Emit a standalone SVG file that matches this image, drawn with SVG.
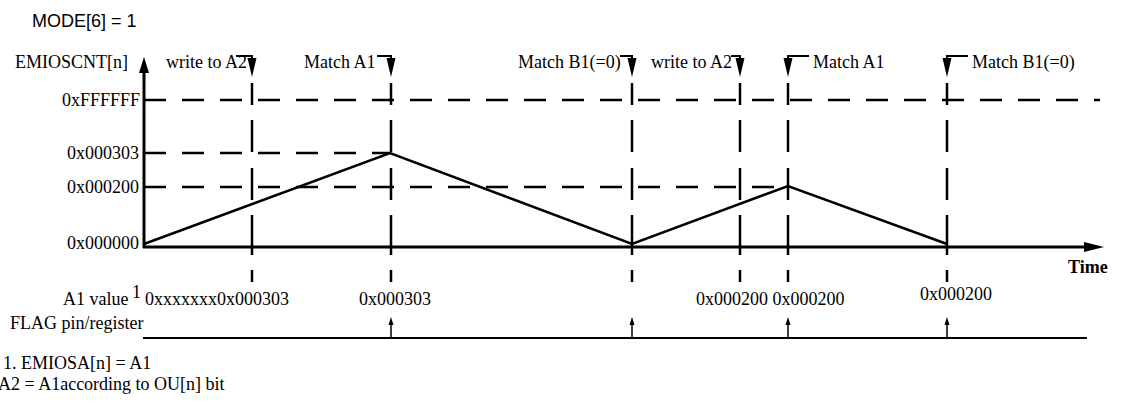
<svg xmlns="http://www.w3.org/2000/svg" xmlns:xlink="http://www.w3.org/1999/xlink" width="1122" height="412" viewBox="0 0 1122 412">
<style>
text{font-family:"Liberation Serif","Times New Roman",serif;font-size:18px;fill:#000}
.sans{font-family:"Liberation Sans",Arial,sans-serif}
.dash{stroke:#000;stroke-width:2.5;fill:none;stroke-dasharray:22 16}
.solid{stroke:#000;fill:none}
.tri{fill:#000}
.br{stroke:#000;stroke-width:2;fill:none}
</style>
<defs>
<path id="vdash" d="M0,83V105M0,120V152M0,168V200M0,215V255M0,270V282" stroke="#000" stroke-width="2.5" fill="none"/>
<polygon id="downarrow" points="-4.5,58 4.5,58 0,77" fill="#000"/>
<g id="uparrow"><path d="M0,338V322" stroke="#000" stroke-width="1.5"/><polygon points="-2.5,325 2.5,325 0,317" fill="#000"/></g>
</defs>
<text class="sans" x="32" y="27">MODE[6] = 1</text>
<g id="axis-labels">
<text x="15" y="68">EMIOSCNT[n]</text>
<text x="140" y="106" text-anchor="end">0xFFFFFF</text>
<text x="139" y="159" text-anchor="end">0x000303</text>
<text x="139" y="193" text-anchor="end">0x000200</text>
<text x="139" y="249" text-anchor="end">0x000000</text>
<text x="1068" y="273" font-weight="bold" font-size="19">Time</text>
</g>
<g id="connectors">
<line class="dash" x1="144" y1="100" x2="1100" y2="100"/>
<line class="dash" x1="144" y1="153" x2="390" y2="153"/>
<line class="dash" x1="144" y1="187" x2="790" y2="187"/>
<use xlink:href="#vdash" x="252"/>
<use xlink:href="#vdash" x="391"/>
<use xlink:href="#vdash" x="632"/>
<use xlink:href="#vdash" x="740"/>
<use xlink:href="#vdash" x="788"/>
<use xlink:href="#vdash" x="947"/>
<line class="solid" stroke-width="3" x1="144" y1="248" x2="144" y2="70"/>
<polygon class="tri" points="144,57 139,73 149,73"/>
<line class="solid" stroke-width="3" x1="143" y1="247" x2="1088" y2="247"/>
<polygon class="tri" points="1084,242 1104,247 1084,252"/>
<polyline class="solid" stroke-width="2.5" points="144,244 390,153 632,244 788,186 947,244"/>
<line class="solid" stroke-width="2" x1="143" y1="338" x2="1087" y2="338"/>
<use xlink:href="#uparrow" x="391"/>
<use xlink:href="#uparrow" x="632"/>
<use xlink:href="#uparrow" x="788"/>
<use xlink:href="#uparrow" x="947"/>
</g>
<g id="ev-write-a2-1">
<text x="166" y="68">write to A2</text>
<path class="br" d="M236,56H252V60"/>
<use xlink:href="#downarrow" x="252"/>
</g>
<g id="ev-match-a1-1">
<text x="304" y="68">Match A1</text>
<path class="br" d="M377,56H391V60"/>
<use xlink:href="#downarrow" x="391"/>
</g>
<g id="ev-match-b1-1">
<text x="518" y="68">Match B1(=0)</text>
<path class="br" d="M620,56H632V60"/>
<use xlink:href="#downarrow" x="632"/>
</g>
<g id="ev-write-a2-2">
<text x="651" y="68">write to A2</text>
<path class="br" d="M731,56H740V60"/>
<use xlink:href="#downarrow" x="740"/>
</g>
<g id="ev-match-a1-2">
<text x="813" y="68">Match A1</text>
<path class="br" d="M809,56H788V60"/>
<use xlink:href="#downarrow" x="788"/>
</g>
<g id="ev-match-b1-2">
<text x="972" y="68">Match B1(=0)</text>
<path class="br" d="M968,56H947V60"/>
<use xlink:href="#downarrow" x="947"/>
</g>
<g id="a1-row">
<text x="63" y="305">A1 value</text>
<text x="132" y="298" font-size="12">1</text>
<text x="145" y="305">0xxxxxxx0x000303</text>
<text x="359" y="305">0x000303</text>
<text x="696" y="305">0x000200 0x000200</text>
<text x="920" y="300">0x000200</text>
</g>
<g id="flag-row">
<text x="10" y="329">FLAG pin/register</text>
</g>
<g id="notes">
<text x="3" y="369">1. EMIOSA[n] = A1</text>
<text x="-2" y="390">A2 = A1according to OU[n] bit</text>
</g>
</svg>
